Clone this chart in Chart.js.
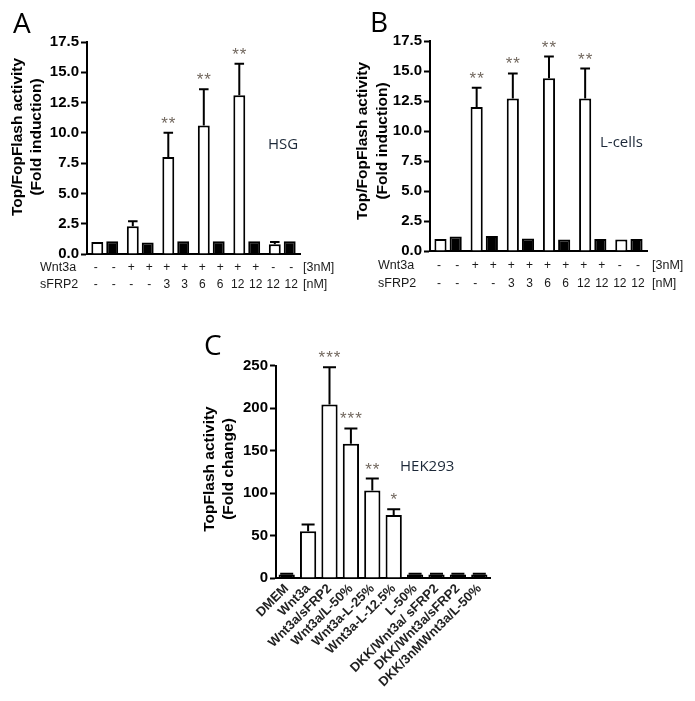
<!DOCTYPE html>
<html>
<head>
<meta charset="utf-8">
<script src="https://cdn.jsdelivr.net/npm/chart.js@4.4.1/dist/chart.umd.min.js"></script>
<style>
  body { margin: 0; background: #fff; }
  #wrap { position: relative; width: 695px; height: 701px; }
  canvas { position: absolute; }
</style>
</head>
<body>
<div id="wrap">
  <canvas id="chartA" width="345" height="300" style="left:0;top:0"></canvas>
  <canvas id="chartB" width="350" height="300" style="left:345px;top:0"></canvas>
  <canvas id="chartC" width="330" height="381" style="left:190px;top:320px"></canvas>
</div>
<script>
// --- data ---
// A: HSG, B: L-cells (6 conditions, open + filled bar each)
const pairs = ['1', '2', '3', '4', '5', '6'];
const wnt3aRow = ['-', '-', '+', '+', '+', '+', '+', '+', '+', '+', '-', '-'];
const sfrp2Row = ['-', '-', '-', '-', '3', '3', '6', '6', '12', '12', '12', '12'];
const yTicksAB = [0, 2.5, 5, 7.5, 10, 12.5, 15, 17.5];

const openA = [1.0, 2.3, 8.0, 10.6, 13.1, 0.8];
const openErrA = [0, 0.4, 2.0, 3.0, 2.6, 0.2];
const filledA = [1.05, 0.95, 1.05, 1.05, 1.05, 1.05];
const starsA = ['', '', '**', '**', '**', ''];

const openB = [1.0, 12.0, 12.7, 14.4, 12.7, 0.95];
const openErrB = [0, 1.6, 2.1, 1.8, 2.5, 0];
const filledB = [1.2, 1.25, 1.05, 0.95, 1.0, 1.0];
const starsB = ['', '**', '**', '**', '**', ''];

// C: HEK293
const labelsC = ['DMEM', 'Wnt3a', 'Wnt3a/sFRP2', 'Wnt3a/L-50%', 'Wnt3a-L-25%', 'Wnt3a-L-12.5%',
  'L-50%', 'DKK/Wnt3a/ sFRP2', 'DKK/Wnt3a/sFRP2', 'DKK/3nMWnt3a/L-50%'];
const valuesC = [4, 55, 204, 158, 103, 74, 4, 4, 4, 4];
const errC = [1, 8, 44, 18, 14, 7, 1, 1, 1, 1];
const starsC = ['', '', '***', '***', '**', '*', '', '', '', ''];
const yTicksC = [0, 50, 100, 150, 200, 250];

Chart.defaults.animation = false;
Chart.defaults.plugins.legend.display = false;
Chart.defaults.plugins.tooltip.enabled = false;
Chart.defaults.font.family = '"Liberation Sans", Arial, sans-serif';

const titleFont = 'bold 15.5px "Liberation Sans", Arial, sans-serif';
const letterFont = '28px "Open Sans", sans-serif';
const cellFont = '15px "Open Sans", sans-serif';
const cellColor = '#1c2838';

// error bars, stars, condition rows and free texts
const annot = {
  id: 'annot',
  afterDatasetsDraw(chart, args, o) {
    const ctx = chart.ctx, y = chart.scales.y;
    ctx.save();
    chart.data.datasets.forEach((ds, di) => {
      chart.getDatasetMeta(di).data.forEach((bar, i) => {
        const err = ds.errors ? ds.errors[i] : 0;
        const top = y.getPixelForValue(ds.data[i] + err);
        if (err > 0) {
          const half = bar.width * 0.4;
          ctx.strokeStyle = '#000';
          ctx.lineWidth = 2;
          ctx.beginPath();
          ctx.moveTo(bar.x, bar.y);
          ctx.lineTo(bar.x, top);
          ctx.moveTo(bar.x - half, top);
          ctx.lineTo(bar.x + half, top);
          ctx.stroke();
        }
        if (ds.stars && ds.stars[i]) {
          ctx.fillStyle = '#72685f';
          ctx.font = '17px "Liberation Sans", Arial, sans-serif';
          ctx.letterSpacing = '1px';
          ctx.textAlign = 'center';
          ctx.textBaseline = 'alphabetic';
          ctx.fillText(ds.stars[i], bar.x + 0.5, top - 4);
          ctx.letterSpacing = '0px';
        }
      });
    });
    (o.rows || []).forEach(r => {
      ctx.font = '12.5px "Liberation Sans", Arial, sans-serif';
      ctx.fillStyle = '#1a1a1a';
      ctx.textBaseline = 'middle';
      ctx.textAlign = 'left';
      ctx.fillText(r.name, r.nameX, r.y);
      ctx.fillText(r.unit, r.unitX, r.y);
      ctx.textAlign = 'center';
      ctx.font = '12px "Liberation Sans", Arial, sans-serif';
      r.values.forEach((v, k) => {
        const bar = chart.getDatasetMeta(k % 2).data[Math.floor(k / 2)];
        ctx.fillText(v, bar.x + (k % 2 ? 1.5 : -1.5), r.y);
      });
    });
    (o.texts || []).forEach(t => {
      ctx.save();
      ctx.font = t.font;
      ctx.fillStyle = t.color || '#000';
      ctx.textAlign = t.align || 'left';
      ctx.textBaseline = t.baseline || 'alphabetic';
      ctx.translate(t.x, t.y);
      if (t.rotate) ctx.rotate(t.rotate);
      ctx.fillText(t.text, 0, 0);
      ctx.restore();
    });
    ctx.restore();
  }
};

function yAxis(ticks, max, width, fmt) {
  return {
    min: 0, max: max,
    afterBuildTicks: s => { s.ticks = ticks.map(v => ({ value: v })); },
    afterFit: s => { s.width = width; },
    grid: { drawOnChartArea: false, tickLength: 6, tickWidth: 2, color: '#000' },
    border: { color: '#000', width: 2 },
    ticks: { color: '#000', padding: 2, font: { size: 15, weight: 'bold' }, callback: fmt }
  };
}

function pairChart(id, open, openErr, filled, stars, geo) {
  return new Chart(document.getElementById(id), {
    type: 'bar',
    data: {
      labels: pairs,
      datasets: [
        { data: open, errors: openErr, stars: stars, backgroundColor: '#fff', borderColor: '#000',
          borderWidth: 2, categoryPercentage: 0.84, barPercentage: 0.8 },
        { data: filled, backgroundColor: '#000', borderColor: '#000',
          borderWidth: 2, categoryPercentage: 0.84, barPercentage: 0.8 }
      ]
    },
    options: {
      responsive: false,
      layout: { padding: { left: 0, right: geo.right, top: geo.top, bottom: 0 } },
      scales: {
        x: {
          afterFit: s => { s.height = geo.xh; },
          grid: { display: false },
          border: { color: '#000', width: 2 },
          ticks: { display: false }
        },
        y: yAxis(yTicksAB, 17.5, geo.yw, v => v.toFixed(1))
      },
      plugins: {
        annot: {
          rows: [
            { name: 'Wnt3a', nameX: geo.nameX, y: geo.row1, values: wnt3aRow, unit: '[3nM]', unitX: geo.unitX },
            { name: 'sFRP2', nameX: geo.nameX, y: geo.row2, values: sfrp2Row, unit: '[nM]', unitX: geo.unitX }
          ],
          texts: geo.texts
        }
      }
    },
    plugins: [annot]
  });
}

pairChart('chartA', openA, openErrA, filledA, starsA, {
  right: 45, top: 42, xh: 46, yw: 87, nameX: 40, unitX: 303, row1: 268, row2: 285,
  texts: [
    { text: 'A', x: 13, y: 33, font: letterFont },
    { text: 'Top/FopFlash activity', x: 18, y: 137, font: titleFont, align: 'center', baseline: 'middle', rotate: -Math.PI / 2 },
    { text: '(Fold induction)', x: 37, y: 137, font: titleFont, align: 'center', baseline: 'middle', rotate: -Math.PI / 2 },
    { text: 'HSG', x: 268, y: 145, font: cellFont, color: cellColor, baseline: 'middle' }
  ]
});

pairChart('chartB', openB, openErrB, filledB, starsB, {
  right: 48, top: 41, xh: 49, yw: 85, nameX: 33, unitX: 307, row1: 266, row2: 284,
  texts: [
    { text: 'B', x: 25, y: 32, font: letterFont },
    { text: 'Top/FopFlash activity', x: 18, y: 141, font: titleFont, align: 'center', baseline: 'middle', rotate: -Math.PI / 2 },
    { text: '(Fold induction)', x: 38, y: 141, font: titleFont, align: 'center', baseline: 'middle', rotate: -Math.PI / 2 },
    { text: 'L-cells', x: 255, y: 143, font: cellFont, color: cellColor, baseline: 'middle' }
  ]
});

new Chart(document.getElementById('chartC'), {
  type: 'bar',
  data: {
    labels: labelsC,
    datasets: [{
      data: valuesC, errors: errC, stars: starsC,
      backgroundColor: valuesC.map(v => v < 10 ? '#000' : '#fff'),
      borderColor: '#000', borderWidth: 2,
      categoryPercentage: 1, barPercentage: 0.76
    }]
  },
  options: {
    responsive: false,
    layout: { padding: { left: 0, right: 30, top: 45.5, bottom: 0 } },
    scales: {
      x: {
        afterFit: s => { s.height = 123; },
        grid: { display: false, drawTicks: false },
        border: { color: '#000', width: 2 },
        ticks: { autoSkip: false, maxRotation: 45, minRotation: 45, padding: 3, color: '#222',
          font: { size: 13, weight: 'bold' } }
      },
      y: yAxis(yTicksC, 250, 86, v => String(v))
    },
    plugins: {
      annot: {
        texts: [
          { text: 'C', x: 14, y: 35, font: letterFont },
          { text: 'TopFlash activity', x: 20, y: 149, font: titleFont, align: 'center', baseline: 'middle', rotate: -Math.PI / 2 },
          { text: '(Fold change)', x: 39, y: 149, font: titleFont, align: 'center', baseline: 'middle', rotate: -Math.PI / 2 },
          { text: 'HEK293', x: 210, y: 147, font: cellFont, color: cellColor, baseline: 'middle' }
        ]
      }
    }
  },
  plugins: [annot]
});
</script>
</body>
</html>
